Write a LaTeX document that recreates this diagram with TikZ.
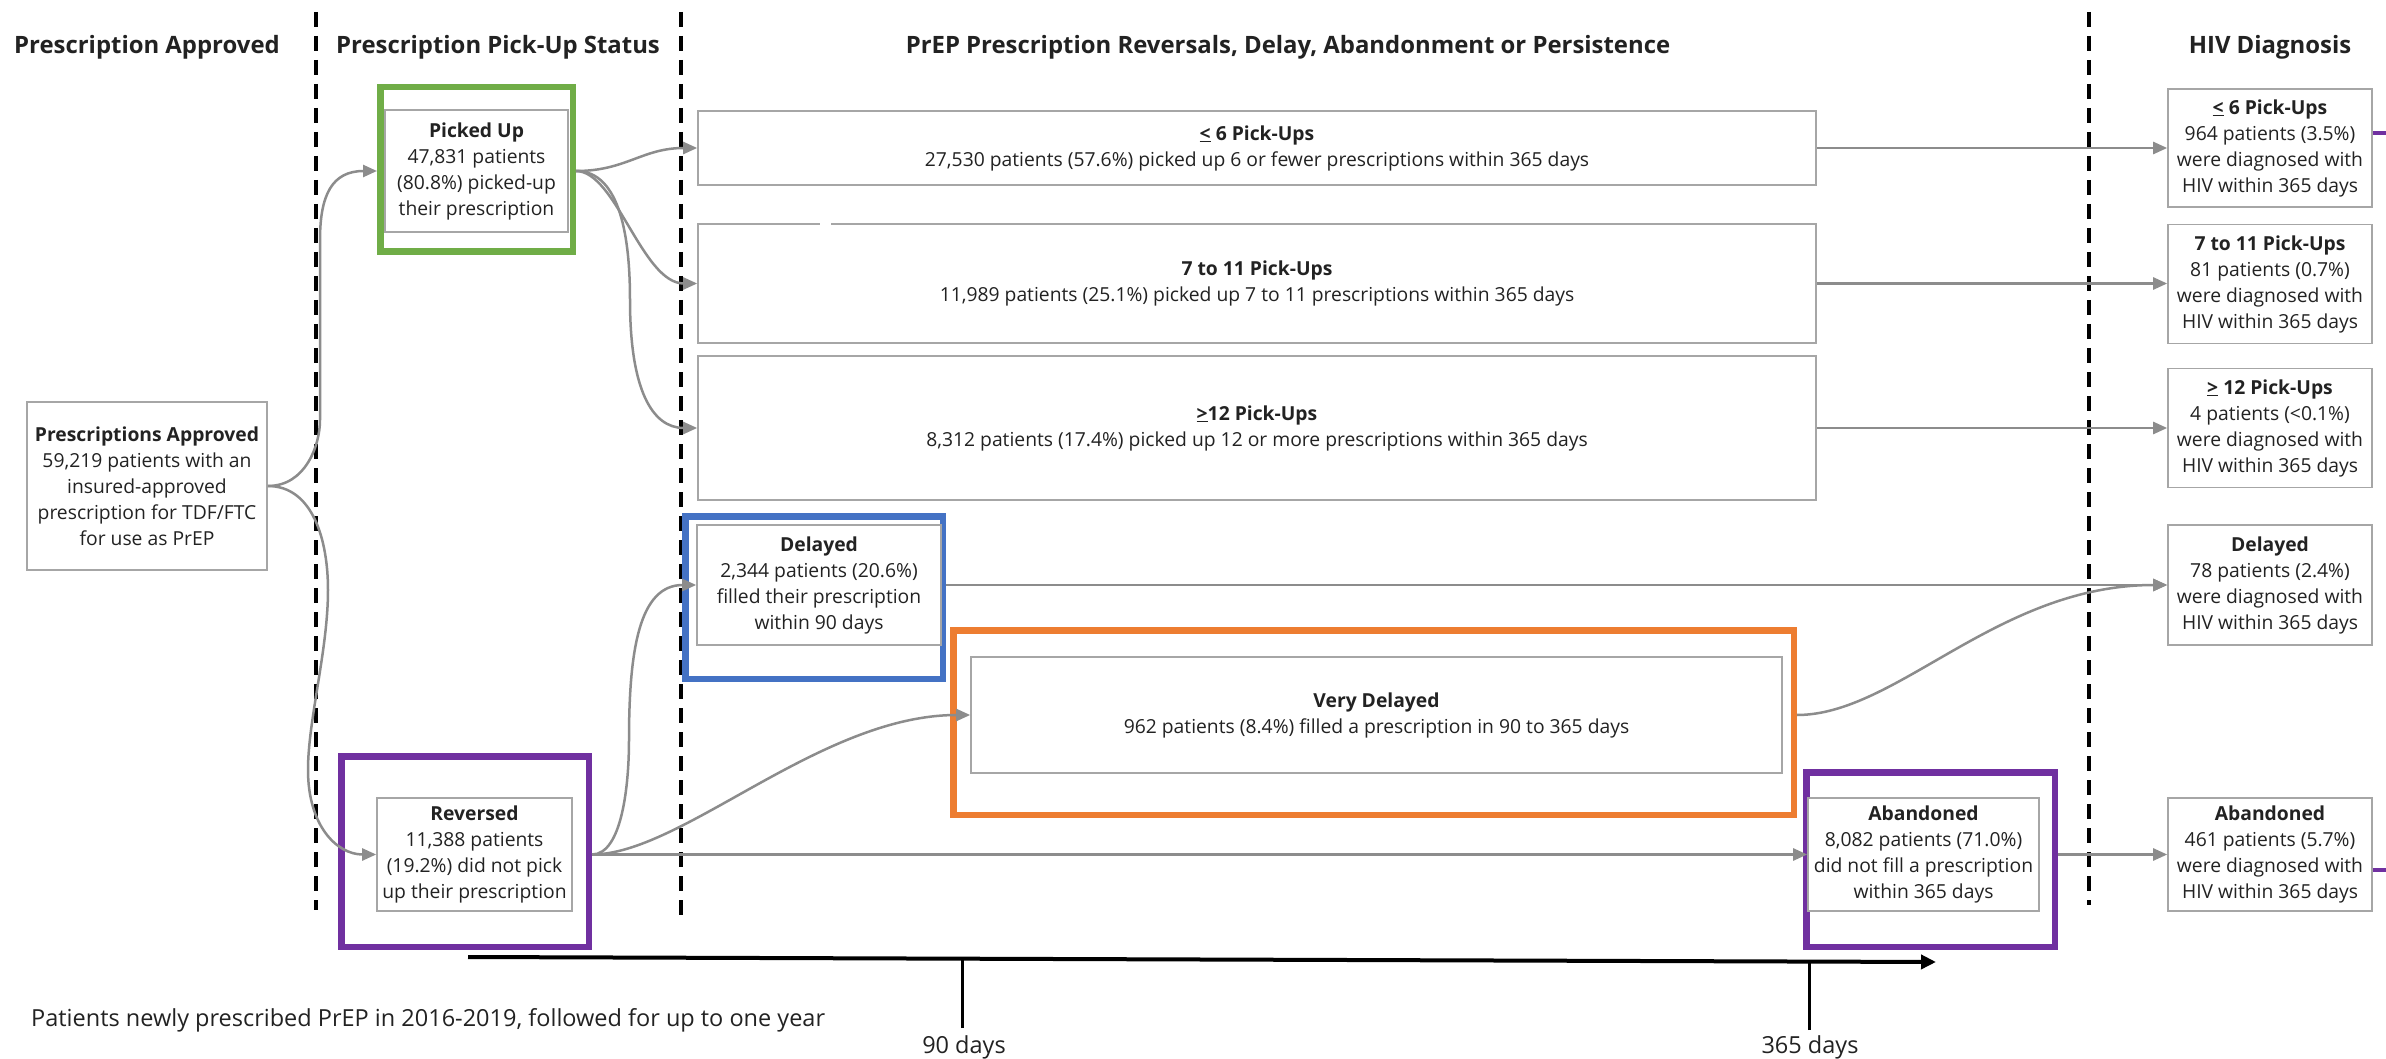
\documentclass[tikz,border=0pt]{standalone}
\usepackage{fontspec}
\setmainfont{Open Sans}
\usetikzlibrary{arrows.meta}
\definecolor{boxgray}{HTML}{A6A6A6}
\definecolor{conngray}{HTML}{8C8C8C}
\definecolor{pugreen}{HTML}{70AD47}
\definecolor{delblue}{HTML}{4472C4}
\definecolor{vdorange}{HTML}{ED7D31}
\definecolor{abpurple}{HTML}{7030A0}
\definecolor{txt}{HTML}{222222}
\newcommand\bxfont{\fontsize{19.3}{26}\selectfont}
\newcommand\hdfont{\fontsize{23.9}{28}\selectfont\bfseries}
\newcommand\ftfont{\fontsize{23.5}{28}\selectfont}
\begin{document}
\begin{tikzpicture}[x=1pt,y=-1pt,
  box/.style={draw=boxgray, line width=1.6pt, fill=white, align=center, inner sep=0pt, text=txt, font=\bxfont},
  frame/.style={line width=6.5pt, inner sep=0pt, minimum width=#1},
  conn/.style={draw=conngray, line width=2.5pt, -{Triangle[length=14pt,width=12pt]}},
  sepline/.style={line width=4pt, dash pattern=on 15pt off 9pt},
  hdr/.style={font=\hdfont, inner sep=0pt, text=txt},
  foot/.style={font=\ftfont, inner sep=0pt, text=txt},
  stub/.style={draw=abpurple, line width=3.5pt},
  tick/.style={line width=3pt},
]
\useasboundingbox (0,0) rectangle (2386,1059);
\fill[white] (0,0) rectangle (2386,1059);

% headers
\node[hdr] (h1) at (147,47) {Prescription Approved};
\node[hdr] (h2) at (498,47) {Prescription Pick-Up Status};
\node[hdr] (h3) at (1288,47) {PrEP Prescription Reversals, Delay, Abandonment or Persistence};
\node[hdr] (h4) at (2270,47) {HIV Diagnosis};

% dashed separators
\coordinate (s1a) at (316,12); \coordinate (s1b) at (316,910);
\coordinate (s2a) at (681,12); \coordinate (s2b) at (681,921);
\coordinate (s3a) at (2089,12); \coordinate (s3b) at (2089,905);
\draw[sepline] (s1a) -- (s1b);
\draw[sepline] (s2a) -- (s2b);
\draw[sepline] (s3a) -- (s3b);

% coloured frames
\node[frame=192.5pt, minimum height=164.5pt, draw=pugreen] (puf) at (476.5,169.5) {};
\node[frame=247.5pt, minimum height=190.5pt, draw=abpurple] (revf) at (465,851.5) {};
\node[frame=257.5pt, minimum height=162.5pt, draw=delblue] (delf) at (814,597.5) {};
\node[frame=840.5pt, minimum height=184.5pt, draw=vdorange] (vdf) at (1373.5,722.5) {};
\node[frame=248.5pt, minimum height=174.5pt, draw=abpurple] (abf) at (1930.5,859.5) {};

% left column
\node[box, minimum width=240pt, minimum height=168pt] (pa) at (147,486)
  {\textbf{Prescriptions Approved}\\59,219 patients with an\\insured-approved\\prescription for TDF/FTC\\for use as PrEP};

% pick-up status
\node[box, minimum width=183pt, minimum height=122pt] (pu) at (476.5,171)
  {\textbf{Picked Up}\\47,831 patients\\(80.8\%) picked-up\\their prescription};
\node[box, minimum width=195pt, minimum height=113pt] (rev) at (474.5,854.5)
  {\textbf{Reversed}\\11,388 patients\\(19.2\%) did not pick\\up their prescription};

% middle
\node[box, minimum width=1118pt, minimum height=74pt] (m6) at (1257,148)
  {\textbf{\underline{<} 6 Pick-Ups}\\27,530 patients (57.6\%) picked up 6 or fewer prescriptions within 365 days};
\node[box, minimum width=1118pt, minimum height=119pt] (m711) at (1257,283.5)
  {\textbf{7 to 11 Pick-Ups}\\11,989 patients (25.1\%) picked up 7 to 11 prescriptions within 365 days};
\node[box, minimum width=1118pt, minimum height=144pt] (m12) at (1257,428)
  {\textbf{\underline{>}12 Pick-Ups}\\8,312 patients (17.4\%) picked up 12 or more prescriptions within 365 days};
\draw[white, line width=3pt] (820,224) -- (831,224);
\node[box, minimum width=244pt, minimum height=120pt] (del) at (819,585)
  {\textbf{Delayed}\\2,344 patients (20.6\%)\\filled their prescription\\within 90 days};
\node[box, minimum width=811pt, minimum height=116pt] (vd) at (1376.5,715)
  {\textbf{Very Delayed}\\962 patients (8.4\%) filled a prescription in 90 to 365 days};
\node[box, minimum width=231pt, minimum height=113pt] (ab) at (1923.5,854.5)
  {\textbf{Abandoned}\\8,082 patients (71.0\%)\\did not fill a prescription\\within 365 days};

% right column
\node[box, minimum width=204pt, minimum height=118pt] (r6) at (2270,148)
  {\textbf{\underline{<} 6 Pick-Ups}\\964 patients (3.5\%)\\were diagnosed with\\HIV within 365 days};
\node[box, minimum width=204pt, minimum height=119pt] (r711) at (2270,284)
  {\textbf{7 to 11 Pick-Ups}\\81 patients (0.7\%)\\were diagnosed with\\HIV within 365 days};
\node[box, minimum width=204pt, minimum height=119pt] (r12) at (2270,428)
  {\textbf{\underline{>} 12 Pick-Ups}\\4 patients (<0.1\%)\\were diagnosed with\\HIV within 365 days};
\node[box, minimum width=204pt, minimum height=120pt] (rdel) at (2270,585)
  {\textbf{Delayed}\\78 patients (2.4\%)\\were diagnosed with\\HIV within 365 days};
\node[box, minimum width=204pt, minimum height=113pt] (rab) at (2270,854.5)
  {\textbf{Abandoned}\\461 patients (5.7\%)\\were diagnosed with\\HIV within 365 days};

% connectors
\draw[conn] (pa.east) .. controls +(38,0) and +(0,25) .. (320,420) -- (320,240)
  .. controls +(0,-45) and +(-45,0) .. (puf.west |- pu.west);
\draw[conn] (pa.east) .. controls +(45,0) and +(0,-50) .. (328,590)
  .. controls +(0,60) and +(0,-50) .. (308,770)
  .. controls +(0,55) and +(-40,0) .. (rev.west);
\draw[conn] (puf.east |- pu.east) .. controls +(50,0) and +(-55,0) .. (m6.west);
\draw[conn] (puf.east |- pu.east) .. controls +(40,0) and +(-55,0) .. (m711.west);
\draw[conn] (puf.east |- pu.east) .. controls +(45,0) and +(0,-60) .. (630,300)
  .. controls +(0,90) and +(-45,0) .. (m12.west);
\draw[conn] (m6.east) -- (r6.west);
\draw[conn] (m711.east) -- (m711.east -| r711.west);
\draw[conn] (m12.east) -- (r12.west);
\draw[conn] (delf.east |- del.east) -- (rdel.west);
\draw[conn] (vdf.east |- vd.east) .. controls +(100,0) and +(-170,0) .. (rdel.west);
\draw[conn] (revf.east |- rev.east) .. controls +(30,0) and +(0,45) .. (629,740)
  .. controls +(0,-90) and +(-57,0) .. (del.west);
\draw[conn] (revf.east |- rev.east) .. controls +(90,0) and +(-150,0) .. (vd.west);
\draw[conn] (revf.east |- rev.east) -- (ab.west);
\draw[conn] (abf.east |- ab.east) -- (rab.west);

% purple stubs at right edge
\coordinate (e1) at (2386,133);
\coordinate (e2) at (2386,870);
\draw[stub] (r6.east |- e1) -- (e1);
\draw[stub] (rab.east |- e2) -- (e2);

% timeline
\coordinate (t0) at (468,957);
\coordinate (t1) at (1936,962);
\draw[line width=4pt, -{Triangle[length=15pt,width=14pt]}] (t0) -- (t1);
\coordinate (k90) at (962,1028);
\coordinate (k365) at (1809,1030);
\draw[tick] (k90) -- (962,959);
\draw[tick] (k365) -- (1809,961);
\node[foot] (d90) at (964,1047) {90 days};
\node[foot] (d365) at (1810,1047) {365 days};
\node[foot, anchor=west] (ft) at (31,1020) {Patients newly prescribed PrEP in 2016-2019, followed for up to one year};
\end{tikzpicture}
\end{document}
